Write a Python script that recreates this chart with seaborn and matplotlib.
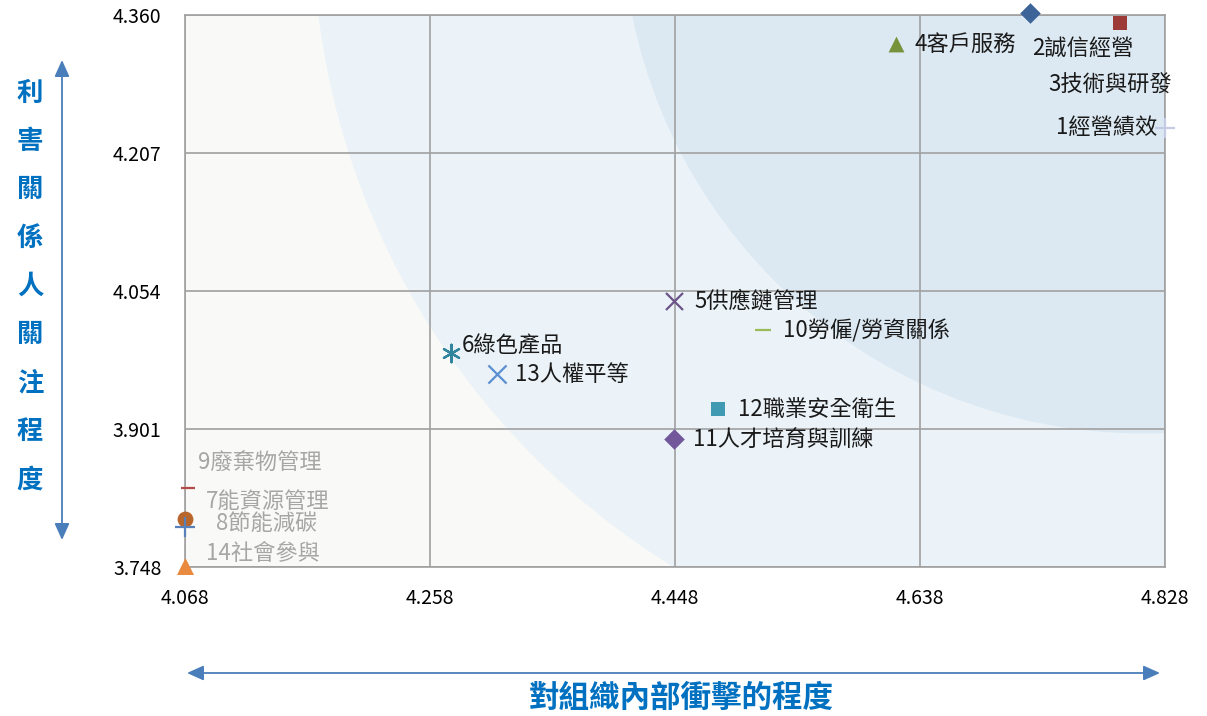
import matplotlib
matplotlib.use("Agg")
import matplotlib.pyplot as plt
import seaborn as sns
from matplotlib.patches import Ellipse, FancyArrowPatch

TOPICS = [
    "1經營績效", "2誠信經營", "3技術與研發", "4客戶服務", "5供應鏈管理",
    "6綠色產品", "7能資源管理", "8節能減碳", "9廢棄物管理", "10勞僱/勞資關係",
    "11人才培育與訓練", "12職業安全衛生", "13人權平等", "14社會參與",
]
IMPACT = [4.828, 4.723, 4.793, 4.619, 4.447, 4.274, 4.068,
          4.068, 4.070, 4.516, 4.447, 4.481, 4.310, 4.068]
CONCERN = [4.235, 4.362, 4.351, 4.328, 4.043, 3.985, 3.801,
           3.792, 3.836, 4.011, 3.890, 3.923, 3.962, 3.749]
X_TICKS = [4.068, 4.258, 4.448, 4.638, 4.828]
Y_TICKS = [3.748, 3.901, 4.054, 4.207, 4.360]
X_TITLE = "對組織內部衝擊的程度"
Y_TITLE = "利害關係人關注程度"

# marker styling per topic (Excel default marker cycle)
MARKERS = ["+", "D", "s", "^", "x", (6, 2, 0), "o",
           "+", "_", "_", "D", "s", "x", "^"]
COLORS = ["#C3CCE4", "#3C6499", "#9B3A37", "#76933C", "#6B5389", "#31859C",
          "#B9662D", "#5681BA", "#B34B48", "#9BBB59", "#72589A", "#409AB2",
          "#5B8ED2", "#E98A3E"]
SIZES = [220, 110, 110, 130, 150, 160, 130, 220, 90, 120, 110, 110, 170, 150]
GRAY_LABELS = {"7能資源管理", "8節能減碳", "9廢棄物管理", "14社會參與"}
# label offsets in pixels (dx, dy)
OFFSETS = [(-8, 0), (2, -35), (-72, -62), (19, -1), (21, 0), (11, 8), (21, 18),
           (31, 4), (10, 24), (20, -1), (19, -1), (20, -1), (18, -1), (21, 13)]

BLUE_TEXT = "#0070C0"
ARROW_BLUE = "#4A7EBB"
GRID_GRAY = "#A0A0A0"

sns.set_style("white")
plt.rcParams["font.family"] = ["Noto Sans CJK TC", "DejaVu Sans"]

fig = plt.figure(figsize=(12.07, 7.16), dpi=100)
ax = fig.add_axes([185 / 1207, 1 - 567 / 716, 980 / 1207, 552 / 716])
ax.set_facecolor("#F9F9F7")

# background bands
ax.add_patch(Ellipse((4.756, 4.463), 1.178, 1.680, facecolor="#EBF3F8",
                     edgecolor="none", zorder=0.1))
ax.add_patch(Ellipse((4.811, 4.474), 0.8085, 1.156, facecolor="#DCE9F2",
                     edgecolor="none", zorder=0.2))

for i, name in enumerate(TOPICS):
    marker = MARKERS[i]
    filled = marker in ("D", "s", "^", "o")
    sns.scatterplot(
        x=[IMPACT[i]], y=[CONCERN[i]], ax=ax,
        marker=marker, s=SIZES[i],
        color=COLORS[i], edgecolor=COLORS[i],
        linewidth=0 if filled else 1.6,
        clip_on=False, zorder=5, legend=False
    )
    dx, dy = OFFSETS[i]
    ax.annotate(
        name, (IMPACT[i], CONCERN[i]), xytext=(dx, dy),
        textcoords="offset pixels",
        ha="right" if dx < 0 and i == 0 else "left", va="center",
        fontsize=16,
        color="#A6A6A6" if name in GRAY_LABELS else "#1A1A1A",
        zorder=6, annotation_clip=False
    )

ax.set_xlim(X_TICKS[0], X_TICKS[-1])
ax.set_ylim(Y_TICKS[0], Y_TICKS[-1])
ax.set_xticks(X_TICKS)
ax.set_yticks(Y_TICKS)
ax.set_xticklabels([f"{v:.3f}" for v in X_TICKS])
ax.set_yticklabels([f"{v:.3f}" for v in Y_TICKS])
ax.set_axisbelow(True)
ax.grid(True, color=GRID_GRAY, linewidth=1.2)
for side in ax.spines.values():
    side.set_color(GRID_GRAY)
    side.set_linewidth(1.2)
ax.tick_params(axis="both", direction="out", length=6, width=1.2,
               color=GRID_GRAY, labelsize=14, labelcolor="black")
ax.tick_params(axis="y", pad=11)
ax.tick_params(axis="x", pad=9)
ax.set_xlabel("")
ax.set_ylabel("")

# axis titles
n = len(Y_TITLE)
for k, ch in enumerate(Y_TITLE):
    ypx = 93 + k * (480 - 93) / (n - 1)
    fig.text(30 / 1207, 1 - ypx / 716, ch, ha="center", va="center",
             fontsize=19, fontweight="bold", color=BLUE_TEXT)
fig.text(681 / 1207, 1 - 698 / 716, X_TITLE, ha="center", va="center",
         fontsize=22, fontweight="bold", color=BLUE_TEXT)

# arrows
arrow_style = "<|-|>,head_length=10,head_width=4.5"
fig.patches.append(FancyArrowPatch(
    (62 / 1207, 1 - 540 / 716), (62 / 1207, 1 - 60 / 716),
    transform=fig.transFigure, arrowstyle=arrow_style,
    color=ARROW_BLUE, linewidth=1.3, mutation_scale=1, shrinkA=0, shrinkB=0))
fig.patches.append(FancyArrowPatch(
    (187 / 1207, 1 - 673 / 716), (1160 / 1207, 1 - 673 / 716),
    transform=fig.transFigure, arrowstyle=arrow_style,
    color=ARROW_BLUE, linewidth=1.3, mutation_scale=1, shrinkA=0, shrinkB=0))

fig.savefig("out.png", dpi=100)
